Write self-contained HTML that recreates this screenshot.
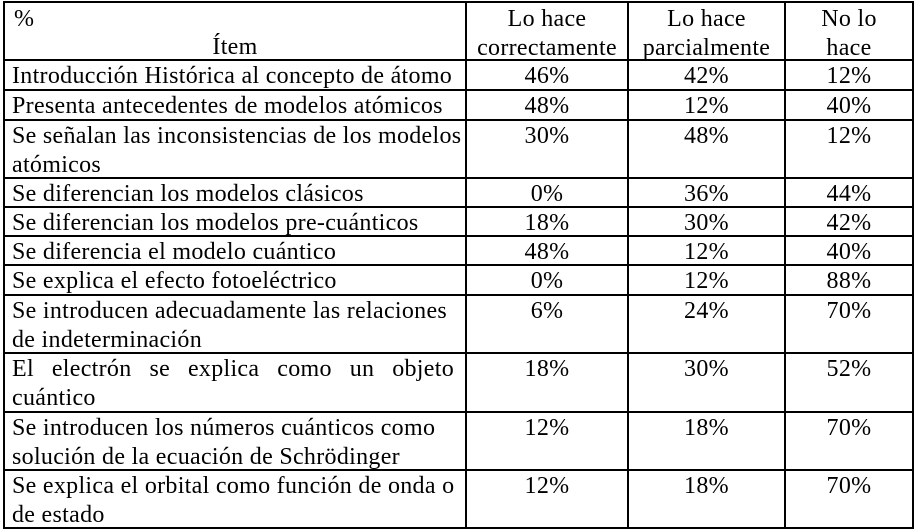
<!DOCTYPE html>
<html><head><meta charset="utf-8"><style>
html,body{margin:0;padding:0;background:#fff;}
body{width:915px;height:530px;position:relative;overflow:hidden;font-family:"Liberation Serif",serif;font-size:24px;letter-spacing:0.3px;color:#000;}
.h{position:absolute;left:3px;width:911px;height:2px;background:#000;}
.v{position:absolute;top:2px;width:2px;height:527px;background:#000;}
.t{position:absolute;line-height:29px;white-space:nowrap;margin-top:2px;}
.c{text-align:center;}
</style></head><body>
<div class="h" style="top:1px"></div>
<div class="h" style="top:59px"></div>
<div class="h" style="top:89px"></div>
<div class="h" style="top:119px"></div>
<div class="h" style="top:177px"></div>
<div class="h" style="top:206px"></div>
<div class="h" style="top:235px"></div>
<div class="h" style="top:264px"></div>
<div class="h" style="top:294px"></div>
<div class="h" style="top:352px"></div>
<div class="h" style="top:411px"></div>
<div class="h" style="top:469px"></div>
<div class="h" style="top:527px"></div>
<div class="v" style="left:3px"></div>
<div class="v" style="left:465px"></div>
<div class="v" style="left:627px"></div>
<div class="v" style="left:784px"></div>
<div class="v" style="left:912px"></div>

<div class="t" style="left:14px;top:3px">%</div>
<div class="t c" style="left:5px;width:460px;top:31px">Ítem</div>
<div class="t c" style="left:467px;width:160px;top:3px">Lo hace<br>correctamente</div>
<div class="t c" style="left:629px;width:155px;top:3px">Lo hace<br>parcialmente</div>
<div class="t c" style="left:786px;width:126px;top:3px">No lo<br>hace</div>

<div class="t" style="left:12px;top:60px">Introducción Histórica al concepto de átomo</div>
<div class="t" style="left:12px;top:90px">Presenta antecedentes de modelos atómicos</div>
<div class="t" style="left:12px;top:120px">Se señalan las inconsistencias de los modelos<br>atómicos</div>
<div class="t" style="left:12px;top:178px">Se diferencian los modelos clásicos</div>
<div class="t" style="left:12px;top:207px">Se diferencian los modelos pre-cuánticos</div>
<div class="t" style="left:12px;top:236px">Se diferencia el modelo cuántico</div>
<div class="t" style="left:12px;top:265px">Se explica el efecto fotoeléctrico</div>
<div class="t" style="left:12px;top:295px">Se introducen adecuadamente las relaciones<br>de indeterminación</div>
<div class="t" style="left:12px;top:353px;width:442px;display:flex;justify-content:space-between"><span>El</span><span>electrón</span><span>se</span><span>explica</span><span>como</span><span>un</span><span>objeto</span></div>
<div class="t" style="left:12px;top:382px">cuántico</div>
<div class="t" style="left:12px;top:412px">Se introducen los números cuánticos como<br>solución de la ecuación de Schrödinger</div>
<div class="t" style="left:12px;top:470px">Se explica el orbital como función de onda o<br>de estado</div>

<div class="t c" style="left:467px;width:160px;top:60px">46%</div><div class="t c" style="left:629px;width:155px;top:60px">42%</div><div class="t c" style="left:786px;width:126px;top:60px">12%</div>
<div class="t c" style="left:467px;width:160px;top:90px">48%</div><div class="t c" style="left:629px;width:155px;top:90px">12%</div><div class="t c" style="left:786px;width:126px;top:90px">40%</div>
<div class="t c" style="left:467px;width:160px;top:120px">30%</div><div class="t c" style="left:629px;width:155px;top:120px">48%</div><div class="t c" style="left:786px;width:126px;top:120px">12%</div>
<div class="t c" style="left:467px;width:160px;top:178px">0%</div><div class="t c" style="left:629px;width:155px;top:178px">36%</div><div class="t c" style="left:786px;width:126px;top:178px">44%</div>
<div class="t c" style="left:467px;width:160px;top:207px">18%</div><div class="t c" style="left:629px;width:155px;top:207px">30%</div><div class="t c" style="left:786px;width:126px;top:207px">42%</div>
<div class="t c" style="left:467px;width:160px;top:236px">48%</div><div class="t c" style="left:629px;width:155px;top:236px">12%</div><div class="t c" style="left:786px;width:126px;top:236px">40%</div>
<div class="t c" style="left:467px;width:160px;top:265px">0%</div><div class="t c" style="left:629px;width:155px;top:265px">12%</div><div class="t c" style="left:786px;width:126px;top:265px">88%</div>
<div class="t c" style="left:467px;width:160px;top:295px">6%</div><div class="t c" style="left:629px;width:155px;top:295px">24%</div><div class="t c" style="left:786px;width:126px;top:295px">70%</div>
<div class="t c" style="left:467px;width:160px;top:353px">18%</div><div class="t c" style="left:629px;width:155px;top:353px">30%</div><div class="t c" style="left:786px;width:126px;top:353px">52%</div>
<div class="t c" style="left:467px;width:160px;top:412px">12%</div><div class="t c" style="left:629px;width:155px;top:412px">18%</div><div class="t c" style="left:786px;width:126px;top:412px">70%</div>
<div class="t c" style="left:467px;width:160px;top:470px">12%</div><div class="t c" style="left:629px;width:155px;top:470px">18%</div><div class="t c" style="left:786px;width:126px;top:470px">70%</div>
</body></html>
